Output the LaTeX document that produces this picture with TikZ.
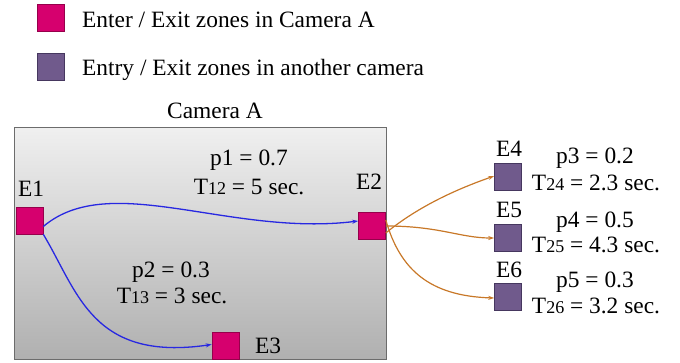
\documentclass[tikz,border=0pt]{standalone}
\usepackage{fontspec}
\setmainfont{Liberation Serif}
\usetikzlibrary{arrows.meta}
\definecolor{zoneA}{RGB}{214,0,110}
\definecolor{zoneAline}{RGB}{150,0,75}
\definecolor{zoneB}{RGB}{112,90,140}
\definecolor{zoneBline}{RGB}{70,55,95}
\definecolor{flowA}{RGB}{40,40,225}
\definecolor{flowB}{RGB}{200,120,40}
\newcommand{\sm}[1]{{\fontsize{18}{18}\selectfont #1}}
\tikzset{
  lbl/.style={font=\rmfamily\fontsize{23.4}{25}\selectfont, inner sep=0pt, anchor=base},
  zonea/.style={draw=zoneAline, fill=zoneA, minimum size=27pt, inner sep=0pt, line width=0.6pt},
  zoneb/.style={draw=zoneBline, fill=zoneB, minimum size=27pt, inner sep=0pt, line width=0.6pt},
  linka/.style={draw=flowA, line width=1.3pt, -{Stealth[length=6pt,width=4pt]}},
  linkb/.style={draw=flowB, line width=1.2pt, -{Stealth[length=6pt,width=4pt]}}
}
\begin{document}
\begin{tikzpicture}[x=1pt,y=-1pt]
\useasboundingbox (0,0) rectangle (680,362);

% legend
\node[zonea] (lega) at (50.5,18) {};
\node[lbl, anchor=base west] (legatext) at (82,27) {Enter / Exit zones in Camera A};
\node[zoneb] (legb) at (50.5,66.5) {};
\node[lbl, anchor=base west] (legbtext) at (82,75) {Entry / Exit zones in another camera};

% camera field of view
\node[lbl] (camlabel) at (215,118) {Camera A};
\shade[top color=gray!12, bottom color=gray!62] (14,127) rectangle (386,359);
\draw[draw=gray!85!black, line width=1pt] (14,127) rectangle (386,359);

% zones inside camera A
\node[zonea] (e1) at (29.5,220.5) {};
\node[lbl] (e1l) at (31,196) {E1};
\node[zonea] (e2) at (372,226) {};
\node[lbl] (e2l) at (369,189) {E2};
\node[zonea] (e3) at (225.5,345.5) {};
\node[lbl] (e3l) at (268,353) {E3};

% zones in other cameras
\node[zoneb] (e4) at (508,177) {};
\node[lbl] (e4l) at (509,156) {E4};
\node[zoneb] (e5) at (508,238) {};
\node[lbl] (e5l) at (509,217) {E5};
\node[zoneb] (e6) at (508,297) {};
\node[lbl] (e6l) at (509,277) {E6};

% transition labels
\node[lbl] (p1) at (249,165) {p1 = 0.7};
\node[lbl] (t12) at (249,194) {T\sm{12} = 5 sec.};
\node[lbl] (p2) at (171,277) {p2 = 0.3};
\node[lbl] (t13) at (172,303) {T\sm{13} = 3 sec.};
\node[lbl] (p3) at (595,163) {p3 = 0.2};
\node[lbl] (t24) at (596,190) {T\sm{24} = 2.3 sec.};
\node[lbl] (p4) at (595,227) {p4 = 0.5};
\node[lbl] (t25) at (596,252) {T\sm{25} = 4.3 sec.};
\node[lbl] (p5) at (595,287) {p5 = 0.3};
\node[lbl] (t26) at (596,313) {T\sm{26} = 3.2 sec.};

% transitions within camera A
\draw[linka] ([yshift=-6pt]e1.east) .. controls (110,170) and (230,237) .. ([yshift=5pt]e2.west);
\draw[linka] (e1.south east) .. controls (78,292) and (92,362) .. ([yshift=1pt]e3.west);

% transitions to other cameras
\draw[linkb] ([yshift=-7pt]e2.east) .. controls (420,205) and (460,188) .. ([yshift=1pt]e4.west);
\draw[linkb] (e2.east) .. controls (440,226) and (460,238) .. (e5.west);
\draw[linkb] ([yshift=6pt]e2.east) .. controls (400,270) and (430,296) .. ([yshift=-1pt]e6.west);
\end{tikzpicture}
\end{document}
